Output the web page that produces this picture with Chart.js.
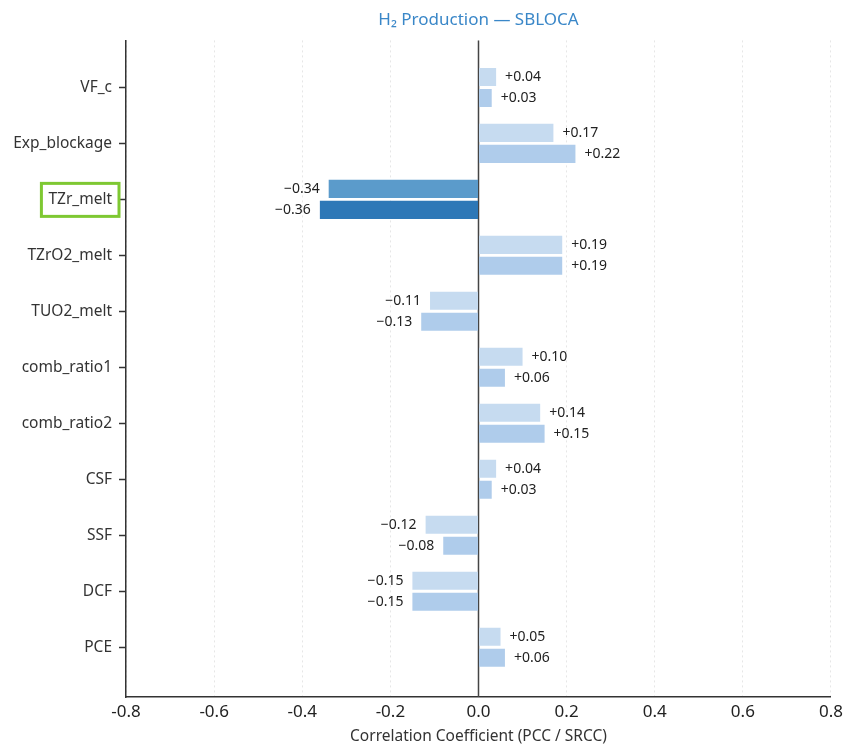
<!DOCTYPE html>
<html>
<head>
<meta charset="utf-8">
<script src="https://cdn.jsdelivr.net/npm/chart.js@4"></script>
<style>
  body { margin: 0; background: #fff; }
  canvas { display: block; }
</style>
</head>
<body>
<canvas id="chart" width="848" height="747"></canvas>
<script>
// parameters, top to bottom
const params = ["VF_c", "Exp_blockage", "TZr_melt", "TZrO2_melt", "TUO2_melt",
    "comb_ratio1", "comb_ratio2", "CSF", "SSF", "DCF", "PCE"];
const pcc  = [0.04, 0.17, -0.34, 0.19, -0.11, 0.10, 0.14, 0.04, -0.12, -0.15, 0.05];
const srcc = [0.03, 0.22, -0.36, 0.19, -0.13, 0.06, 0.15, 0.03, -0.08, -0.15, 0.06];
const highlight = "TZr_melt";
const xTicks = [-0.8, -0.6, -0.4, -0.2, 0.0, 0.2, 0.4, 0.6, 0.8];

const FONT = "'Noto Sans', 'DejaVu Sans', sans-serif";
const hi = params.indexOf(highlight);

const toPoints = (vals) => vals.map((v, i) => ({ x: v, y: i }));
const colors = (base, strong) => params.map((p, i) => i === hi ? strong : base);

// value labels next to each bar
const valueLabels = {
    id: "valueLabels",
    afterDatasetsDraw(chart) {
        const ctx = chart.ctx;
        ctx.save();
        ctx.font = "14px " + FONT;
        ctx.fillStyle = "#222";
        ctx.textBaseline = "middle";
        chart.data.datasets.forEach((ds, d) => {
            chart.getDatasetMeta(d).data.forEach((bar, i) => {
                const v = ds.data[i].x;
                const txt = (v >= 0 ? "+" : "\u2212") + Math.abs(v).toFixed(2);
                if (v >= 0) {
                    ctx.textAlign = "left";
                    ctx.fillText(txt, bar.x + 9, bar.y);
                } else {
                    ctx.textAlign = "right";
                    ctx.fillText(txt, bar.x - 9, bar.y);
                }
            });
        });
        ctx.restore();
    }
};

// solid zero line + green box round highlighted label
const extras = {
    id: "extras",
    beforeDatasetsDraw(chart) {
        const ctx = chart.ctx;
        const x0 = chart.scales.x.getPixelForValue(0);
        const a = chart.chartArea;
        ctx.save();
        ctx.strokeStyle = "#444";
        ctx.lineWidth = 1.5;
        ctx.beginPath();
        ctx.moveTo(x0, a.top);
        ctx.lineTo(x0, a.bottom);
        ctx.stroke();
        ctx.restore();
    },
    afterDraw(chart) {
        const ctx = chart.ctx;
        const y = chart.scales.y.getPixelForValue(hi);
        ctx.save();
        ctx.font = "15.5px " + FONT;
        const w = ctx.measureText(highlight).width;
        const right = 112 + 7;
        const left = 112 - w - 7;
        ctx.strokeStyle = "#7ec832";
        ctx.lineWidth = 3;
        ctx.strokeRect(left, y - 16, right - left, 33);
        ctx.restore();
    }
};

new Chart(document.getElementById("chart"), {
    type: "bar",
    data: {
        datasets: [{
            label: "PCC",
            data: toPoints(pcc),
            backgroundColor: colors("#c6dbf0", "#5b9bcb")
        }, {
            label: "SRCC",
            data: toPoints(srcc),
            backgroundColor: colors("#afcceb", "#2e78b7")
        }]
    },
    options: {
        indexAxis: "y",
        responsive: false,
        animation: false,
        categoryPercentage: 0.75,
        barPercentage: 0.86,
        layout: { padding: { left: 0, right: 9, top: 0, bottom: 0 } },
        plugins: {
            legend: { display: false },
            tooltip: { enabled: false },
            title: {
                display: true,
                fullSize: false,
                text: "H\u2082 Production \u2014 SBLOCA",
                color: "#3a87c8",
                font: { family: FONT, size: 17, weight: "normal" },
                padding: { top: 10, bottom: 10 }
            }
        },
        scales: {
            x: {
                type: "linear",
                min: -0.8,
                max: 0.8,
                afterBuildTicks: (s) => { s.ticks = xTicks.map((v) => ({ value: v })); },
                ticks: {
                    callback: (v) => v.toFixed(1),
                    color: "#222",
                    font: { family: FONT, size: 17 },
                    padding: 5,
                    maxRotation: 0
                },
                grid: { color: "#e6e6e6", drawTicks: false, lineWidth: 1 },
                border: { display: true, color: "#333", width: 1.5, dash: [2, 3] },
                title: {
                    display: true,
                    text: "Correlation Coefficient (PCC / SRCC)",
                    color: "#333",
                    font: { family: FONT, size: 15.5 },
                    padding: { top: 0, bottom: 1 }
                }
            },
            y: {
                type: "linear",
                reverse: true,
                offset: false,
                min: -0.84,
                max: 10.89,
                afterBuildTicks: (s) => { s.ticks = params.map((p, i) => ({ value: i })); },
                afterFit: (s) => { s.width = 126; },
                ticks: {
                    callback: (v) => params[v],
                    color: "#333",
                    font: { family: FONT, size: 15.5 },
                    padding: 7
                },
                grid: { offset: false, drawOnChartArea: false, drawTicks: true, tickLength: 7, color: "#333", tickWidth: 1.5 },
                border: { display: true, color: "#333", width: 1.5 }
            }
        }
    },
    plugins: [extras, valueLabels]
});
</script>
</body>
</html>
